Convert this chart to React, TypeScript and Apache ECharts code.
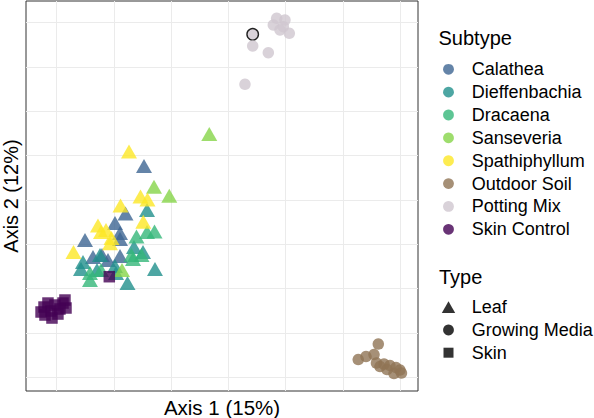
import React, { useEffect, useRef } from "react";
import * as echarts from "echarts";

// ---- data ----
const subtypes = ["Calathea", "Dieffenbachia", "Dracaena", "Sanseveria", "Spathiphyllum", "Outdoor Soil", "Potting Mix", "Skin Control"];
const subtypeColors = ["#3D6592", "#21908C", "#35B779", "#86D549", "#FDE725", "#907455", "#CFC7CF", "#440154"];
const types = ["Leaf", "Growing Media", "Skin"];
const typeSymbols = ["triangle", "circle", "rect"];
const subtypeTypeIndex = [0, 0, 0, 0, 0, 1, 1, 2];
const legendTitles = ["Subtype", "Type"];
const axisTitles = ["Axis 1 (15%)", "Axis 2 (12%)"];

const calathea = [[-0.1474, 0.0767], [-0.1797, -0.0305], [-0.1981, -0.0519], [-0.1893, -0.0744], [-0.1893, -0.088], [-0.2505, -0.0902], [-0.2365, -0.1286], [-0.2208, -0.1241], [-0.2103, -0.1354], [-0.1893, -0.1263]];
const dieffenbachia = [[-0.1421, -0.0226], [-0.1649, -0.106], [-0.1491, -0.1173], [-0.1282, -0.1557], [-0.1762, -0.1872], [-0.254, -0.1399], [-0.2575, -0.1557], [-0.2295, -0.1579], [-0.1963, -0.1647], [-0.1981, -0.1489], [-0.2243, -0.1241]];
const dracaena = [[-0.129, -0.0711], [-0.1421, -0.0722], [-0.1605, -0.0823], [-0.1692, -0.1241], [-0.1517, -0.1241], [-0.2418, -0.1805], [-0.2418, -0.1647], [-0.1666, -0.1331], [-0.2225, -0.1579]];
const sanseveria = [[-0.0333, 0.1489], [-0.1299, 0.03], [-0.1032, 0.0097], [-0.1858, -0.1579]];
const spathiphyllum = [[-0.1736, 0.1094], [-0.1535, 0.0079], [-0.1413, 0.0011], [-0.1884, -0.0124], [-0.1486, -0.049], [-0.2278, -0.0575], [-0.2225, -0.0722], [-0.2042, -0.0857], [-0.2068, -0.0977], [-0.2706, -0.1173], [-0.2138, -0.0677]];
const outdoorSoil = [[0.2621, -0.3248], [0.2271, -0.3598], [0.2406, -0.353], [0.2546, -0.3485], [0.2589, -0.3677], [0.2721, -0.37], [0.2825, -0.3733], [0.293, -0.3778], [0.3, -0.3835], [0.2895, -0.3914], [0.2773, -0.3824], [0.2651, -0.3756], [0.3026, -0.3903]];
const pottingMix = [[0.0426, 0.3738], [0.0426, 0.3474], [0.0699, 0.3323], [0.0291, 0.261], [0.0845, 0.4099], [0.099, 0.406], [0.0786, 0.3948], [0.0961, 0.3909], [0.1066, 0.376], [0.0903, 0.3835]];
const outlinedPottingIndex = 0;
const skinControl = [[-0.3221, -0.2414], [-0.3204, -0.2594], [-0.31, -0.2504], [-0.303, -0.2369], [-0.2978, -0.2572], [-0.2889, -0.2324], [-0.2837, -0.2436], [-0.2855, -0.2256], [-0.3082, -0.2662], [-0.3152, -0.2324], [-0.2943, -0.2459], [-0.3273, -0.2526], [-0.208, -0.173]];
const subtypeData = [calathea, dieffenbachia, dracaena, sanseveria, spathiphyllum, outdoorSoil, pottingMix, skinControl];

const xGridValues = [-0.3, -0.2, -0.1, 0, 0.1, 0.2, 0.3];
const yGridValues = [-0.4, -0.3, -0.2, -0.1, 0, 0.1, 0.2, 0.3, 0.4];
const xRange = [-0.3536, 0.3315];
const yRange = [-0.4308, 0.4489];

// ---- styles ----
const FONT = "'Liberation Sans', Arial, Helvetica, sans-serif";
const ALPHA = 0.8;
const symbolSizes: any = { triangle: [16, 14], circle: 11.5, rect: 11.5 };

function buildLegend() {
  const g: any[] = [];
  const symX = 448.5;
  const textX = 471.7;
  g.push({ type: "text", x: 438.5, y: 37.8, style: { text: legendTitles[0], fontSize: 20, fontFamily: FONT, fill: "#000", verticalAlign: "middle" } });
  subtypes.forEach((name, i) => {
    const cy = 69.3 + i * 22.86;
    g.push({ type: "circle", shape: { cx: symX, cy, r: 5.4 }, style: { fill: subtypeColors[i], opacity: ALPHA } });
    g.push({ type: "text", x: textX, y: cy, style: { text: name, fontSize: 18, fontFamily: FONT, fill: "#000", verticalAlign: "middle" } });
  });
  g.push({ type: "text", x: 439, y: 277, style: { text: legendTitles[1], fontSize: 20, fontFamily: FONT, fill: "#000", verticalAlign: "middle" } });
  types.forEach((name, i) => {
    const cy = 307.3 + i * 22.7;
    const sym = typeSymbols[i];
    const style = { fill: "#000", opacity: ALPHA };
    if (sym === "triangle") {
      g.push({ type: "polygon", shape: { points: [[symX - 6.7, cy + 5.8], [symX + 6.7, cy + 5.8], [symX, cy - 6.0]] }, style });
    } else if (sym === "circle") {
      g.push({ type: "circle", shape: { cx: symX, cy, r: 5.4 }, style });
    } else {
      g.push({ type: "rect", shape: { x: symX - 5, y: cy - 5, width: 10, height: 10 }, style });
    }
    g.push({ type: "text", x: textX, y: cy, style: { text: name, fontSize: 18, fontFamily: FONT, fill: "#000", verticalAlign: "middle" } });
  });
  return g;
}

export default function App() {
  const ref = useRef<HTMLDivElement>(null);
  useEffect(() => {
    if (!ref.current) return;
    const chart = echarts.init(ref.current, null, { renderer: "svg" });
    const series = subtypes.map((name, i) => {
      const sym = typeSymbols[subtypeTypeIndex[i]];
      return {
        name,
        type: "scatter",
        symbol: sym,
        symbolSize: symbolSizes[sym],
        itemStyle: { color: subtypeColors[i], opacity: ALPHA },
        emphasis: { disabled: true },
        data: subtypeData[i].map((p, j) =>
          name === "Potting Mix" && j === outlinedPottingIndex
            ? { value: p, itemStyle: { borderColor: "#222", borderWidth: 1.4, opacity: 1, color: "#D9D2D9" } }
            : p
        ),
        z: 2,
      };
    });
    chart.setOption({
      animation: false,
      backgroundColor: "#fff",
      textStyle: { fontFamily: FONT },
      grid: {
        left: 26, top: 1, right: 176, bottom: 27,
        outerBoundsMode: "none",
        containLabel: false,
        show: true, borderColor: "#333", borderWidth: 1, backgroundColor: "transparent",
      },
      xAxis: {
        type: "value",
        min: xRange[0],
        max: xRange[1],
        axisLine: { show: false },
        axisTick: { show: false, customValues: xGridValues },
        axisLabel: { show: false, customValues: xGridValues },
        splitLine: { show: true, lineStyle: { color: "#EBEBEB", width: 1 } },
        name: axisTitles[0],
        nameLocation: "middle",
        nameGap: 16.5,
        nameTextStyle: { fontSize: 20.5, color: "#000", fontFamily: FONT, verticalAlign: "middle" },
      },
      yAxis: {
        type: "value",
        min: yRange[0],
        max: yRange[1],
        axisLine: { show: false },
        axisTick: { show: false, customValues: yGridValues },
        axisLabel: { show: false, customValues: yGridValues },
        splitLine: { show: true, lineStyle: { color: "#EBEBEB", width: 1 } },
        name: axisTitles[1],
        nameLocation: "middle",
        nameGap: 15.5,
        nameRotate: 90,
        nameTextStyle: { fontSize: 20, color: "#000", fontFamily: FONT, verticalAlign: "middle" },
      },
      graphic: buildLegend(),
      series,
    });
    return () => chart.dispose();
  }, []);
  return <div ref={ref} style={{ position: "fixed", left: 0, top: 0, width: 594, height: 418, background: "#fff" }} />;
}
